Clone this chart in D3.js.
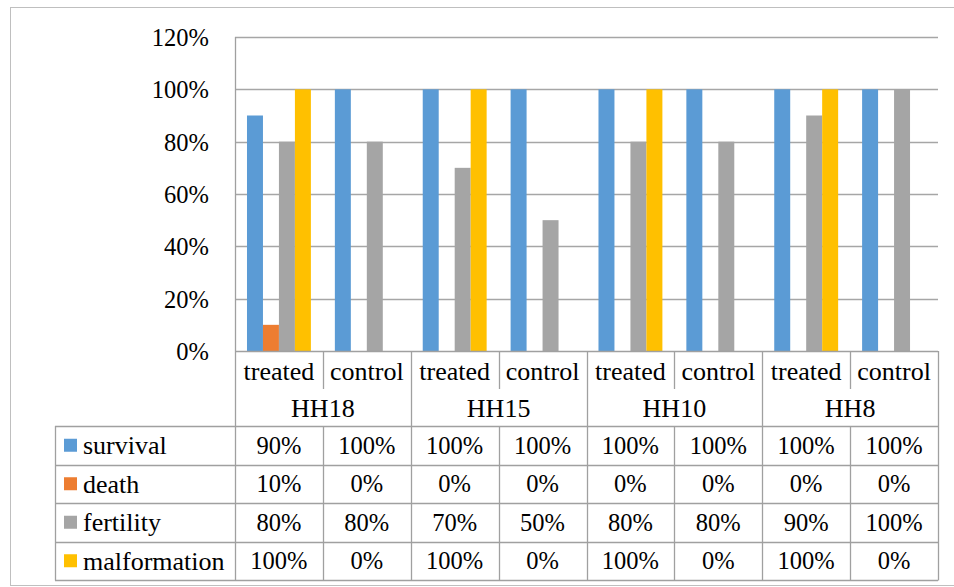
<!DOCTYPE html>
<html>
<head>
<meta charset="utf-8">
<script src="https://cdn.jsdelivr.net/npm/d3@7"></script>
</head>
<body style="margin:0">
<svg id="chart" width="954" height="587"></svg>
<script>
// Stage groups and the two conditions within each
const groups = ["HH18", "HH15", "HH10", "HH8"];
const conditions = ["treated", "control"];

// Series values, one per column (treated/control for each stage, in order)
const seriesNames = ["survival", "death", "fertility", "malformation"];
const survival     = [0.9, 1.0, 1.0, 1.0, 1.0, 1.0, 1.0, 1.0];
const death        = [0.1, 0.0, 0.0, 0.0, 0.0, 0.0, 0.0, 0.0];
const fertility    = [0.8, 0.8, 0.7, 0.5, 0.8, 0.8, 0.9, 1.0];
const malformation = [1.0, 0.0, 1.0, 0.0, 1.0, 0.0, 1.0, 0.0];
const seriesColors = ["#5B9BD5", "#ED7D31", "#A5A5A5", "#FFC000"];

// Axis ticks
const yTicks = [0, 0.2, 0.4, 0.6, 0.8, 1.0, 1.2];

const seriesValues = [survival, death, fertility, malformation];
const columns = groups.flatMap(g => conditions.map(c => ({ group: g, cond: c, key: g + "|" + c })));

const svg = d3.select("#chart");
const WORD_FONT = 26;
const NUM_FONT = 24.5;
const gridColor = "#A6A6A6";
const tableColor = "#A0A0A0";

// Layout
const plot = { left: 235, right: 938, top: 37, bottom: 351 };
const catRowBottom = 426;
const tableLeft = 55;
const rowH = 38.5;

function styleText(sel, size) {
  return sel.style("font-family", "'Liberation Serif'").attr("font-size", size).attr("fill", "#000");
}

// Outer chart frame
svg.append("rect")
  .attr("x", 10.5).attr("y", 7.5)
  .attr("width", 960).attr("height", 578)
  .attr("fill", "none").attr("stroke", "#BFBFBF").attr("stroke-width", 1);

const x = d3.scaleBand()
  .domain(columns.map(d => d.key))
  .range([plot.left, plot.right])
  .padding(0);

const xSeries = d3.scaleBand()
  .domain(seriesNames)
  .range([0, x.bandwidth()])
  .paddingInner(0)
  .paddingOuter(0.75);

const y = d3.scaleLinear().domain([0, 1.2]).range([plot.bottom, plot.top]);

// Gridlines
svg.append("g")
  .selectAll("line")
  .data(yTicks.filter(t => t > 0))
  .join("line")
  .attr("x1", plot.left).attr("x2", plot.right)
  .attr("y1", d => Math.round(y(d)) + 0.5).attr("y2", d => Math.round(y(d)) + 0.5)
  .attr("stroke", gridColor).attr("stroke-width", 1.3);

// Y axis labels
const yAxis = d3.axisLeft(y).tickValues(yTicks).tickFormat(d3.format(".0%")).tickSize(0).tickPadding(26);
const yg = svg.append("g").attr("transform", `translate(${plot.left},0)`).call(yAxis);
yg.attr("font-family", null).attr("font-size", null);
yg.select(".domain").remove();
styleText(yg.selectAll("text"), NUM_FONT).attr("dy", "0.34em");

// Bars
const barData = [];
columns.forEach((col, i) => {
  seriesNames.forEach((s, j) => {
    barData.push({ key: col.key, series: s, value: seriesValues[j][i], color: seriesColors[j] });
  });
});
svg.append("g")
  .selectAll("rect")
  .data(barData.filter(d => d.value > 0))
  .join("rect")
  .attr("x", d => x(d.key) + xSeries(d.series))
  .attr("y", d => y(d.value))
  .attr("width", xSeries.bandwidth())
  .attr("height", d => y(0) - y(d.value))
  .attr("fill", d => d.color);

// Category / group header under the plot
const lines = svg.append("g").attr("stroke", tableColor).attr("stroke-width", 1.3);

// Left axis line running down through the header
lines.append("line")
  .attr("x1", plot.left + 0.5).attr("x2", plot.left + 0.5)
  .attr("y1", plot.top).attr("y2", catRowBottom);
// Baseline
lines.append("line")
  .attr("x1", plot.left).attr("x2", plot.right)
  .attr("y1", plot.bottom + 0.5).attr("y2", plot.bottom + 0.5);

// Separators between treated/control inside a group
columns.forEach(col => {
  if (col.cond === "control") {
    const xx = Math.round(x(col.key)) + 0.5;
    lines.append("line").attr("x1", xx).attr("x2", xx).attr("y1", plot.bottom).attr("y2", 389);
  }
});
// Group separators
groups.forEach(g => {
  const xx = Math.round(x(g + "|treated") + 2 * x.bandwidth()) + 0.5;
  lines.append("line").attr("x1", xx).attr("x2", xx).attr("y1", plot.bottom).attr("y2", catRowBottom);
});

// Condition labels
styleText(svg.append("g").selectAll("text")
  .data(columns).join("text")
  .attr("x", d => x(d.key) + x.bandwidth() / 2)
  .attr("y", 371)
  .attr("dy", "0.34em")
  .attr("text-anchor", "middle"), WORD_FONT)
  .text(d => d.cond);

// Group labels
styleText(svg.append("g").selectAll("text")
  .data(groups).join("text")
  .attr("x", g => x(g + "|treated") + x.bandwidth())
  .attr("y", 408)
  .attr("dy", "0.34em")
  .attr("text-anchor", "middle"), WORD_FONT)
  .text(g => g);

// Data table
const rowTop = i => catRowBottom + i * rowH;
for (let i = 0; i <= seriesNames.length; i++) {
  const yy = Math.round(rowTop(i)) + 0.5;
  lines.append("line").attr("x1", tableLeft).attr("x2", plot.right).attr("y1", yy).attr("y2", yy);
}
const tableBottom = Math.round(rowTop(seriesNames.length)) + 0.5;
[tableLeft + 0.5, plot.left + 0.5].concat(columns.map(c => Math.round(x(c.key) + x.bandwidth()) + 0.5))
  .forEach(xx => {
    lines.append("line").attr("x1", xx).attr("x2", xx).attr("y1", catRowBottom).attr("y2", tableBottom);
  });

const fmt = d3.format(".0%");
seriesNames.forEach((s, j) => {
  const cy = rowTop(j) + rowH / 2;
  svg.append("rect")
    .attr("x", 64).attr("y", cy - 6.5)
    .attr("width", 13).attr("height", 13)
    .attr("fill", seriesColors[j]);
  styleText(svg.append("text")
    .attr("x", 83).attr("y", cy).attr("dy", "0.34em"), WORD_FONT)
    .text(s);
  columns.forEach((col, i) => {
    styleText(svg.append("text")
      .attr("x", x(col.key) + x.bandwidth() / 2)
      .attr("y", cy).attr("dy", "0.34em")
      .attr("text-anchor", "middle"), NUM_FONT)
      .text(fmt(seriesValues[j][i]));
  });
});
</script>
</body>
</html>
